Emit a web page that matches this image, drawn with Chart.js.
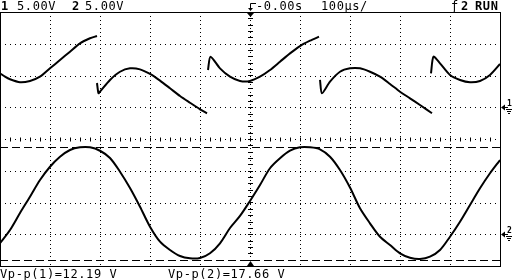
<!DOCTYPE html>
<html><head><meta charset="utf-8">
<script src="https://cdn.jsdelivr.net/npm/chart.js@4"></script>
<style>html,body{margin:0;padding:0;background:#fff;}canvas{display:block}</style>
</head><body>
<canvas id="c" width="512" height="280" style="width:512px;height:280px"></canvas>
<script>
// ---- data (time in µs, voltage in V) ----
const ch1Time  = [-500,-490,-480,-460,-440,-420,-400,-380,-360,-340,-320,-306, -305,
                  -306,-303,-300,-280,-260,-240,-220,-200,-180,-160,-140,-120,-100,-86, -85,
                  -84,-79,-60,-40,-20,0,20,40,60,80,100,120,138, 139,
                  140,144,160,180,200,220,240,260,280,300,320,340,364, 363,
                  362,367,380,400,420,440,460,480,500];
const ch1Volts = [5.35,4.81,4.40,3.93,4.14,4.81,6.13,7.44,8.75,10.07,10.86,11.22, null,
                  3.82,2.20,2.45,4.30,5.59,6.13,5.97,5.24,4.19,2.99,1.77,0.71,-0.32,-0.95, null,
                  5.86,7.96,6.13,4.81,4.14,4.14,4.81,5.86,7.17,8.49,9.64,10.48,11.11, null,
                  4.30,2.20,4.03,5.59,6.13,6.13,5.59,4.81,3.66,2.45,1.41,0.36,-0.95, null,
                  5.35,7.96,6.92,5.08,4.30,3.93,4.14,5.08,6.81];
const ch2Time  = [-500,-480,-460,-440,-420,-400,-380,-360,-340,-320,-300,-280,-260,-240,-220,-200,-180,-160,-140,-120,-100,
                  -80,-60,-40,-20,0,20,40,60,80,100,120,140,160,180,200,220,240,260,280,300,320,340,360,380,400,420,440,460,480,500];
const ch2Volts = [-1.42,0.67,3.35,5.91,8.54,10.63,12.21,13.27,13.69,13.69,13.15,12.01,9.85,7.28,4.34,1.19,-1.17,-2.48,-3.43,-3.79,-3.74,
                  -3.00,-1.42,0.98,2.88,5.24,7.76,10.39,11.96,13.15,13.69,13.69,13.38,12.21,10.12,7.36,4.09,1.72,-0.39,-1.69,-3.00,-3.69,-3.90,-3.53,-2.48,-0.39,1.97,4.61,7.24,9.60,11.69];
const voltsPerDiv = [5, 5];
const groundDiv   = [1, -3];          // ground marker positions (divisions from centre)
const cursorVolts = [13.74, -4.06];   // ch2 Vp-p cursors
const headerTexts = [["1",1,true],["5.00V",17,false],["2",72,true],["5.00V",85,false],["-0.00s",256,false],["100µs/",321,false],["ƒ",451,false],["2",461,true],["RUN",475,true]];
const footerTexts = [["Vp-p(1)=12.19 V",0],["Vp-p(2)=17.66 V",168]];

function toPts(ts, vs, ch){
  return ts.map((t,i)=>({x:t, y: vs[i]===null ? null : vs[i]/voltsPerDiv[ch] + groundDiv[ch]}));
}

const graticule = {
  id:'graticule',
  beforeDatasetsDraw(chart){
    const {ctx, chartArea:a, scales:{x:xs, y:ys}} = chart;
    ctx.save();
    ctx.strokeStyle='#000'; ctx.lineWidth=1;
    const L=a.left, R=a.right, T=a.top, B=a.bottom;
    const line=(x1,y1,x2,y2)=>{ctx.beginPath();ctx.moveTo(x1,y1);ctx.lineTo(x2,y2);ctx.stroke();};
    // vertical dotted
    ctx.setLineDash([1,3]);
    for(let t=-400;t<=400;t+=100){
      const px=Math.round(xs.getPixelForValue(t))+0.5;
      line(px,T,px,B);
    }
    // horizontal dotted
    ctx.setLineDash([1,4]);
    for(let d=-3;d<=3;d++){
      const py=Math.round(ys.getPixelForValue(d))+0.5;
      line(L,py,R,py);
    }
    ctx.setLineDash([]);
    // centre ticks
    const cx=Math.round(xs.getPixelForValue(0))+0.5, cy=Math.round(ys.getPixelForValue(0))+0.5;
    for(let d=-4;d<=4.01;d+=0.2){
      const py=Math.round(ys.getPixelForValue(d))+0.5;
      line(cx-2.5,py,cx+2.5,py);
    }
    for(let t=-500;t<=500;t+=20){
      const px=Math.round(xs.getPixelForValue(t))+0.5;
      line(px,cy-2,px,cy+2);
    }
    // cursors
    ctx.setLineDash([8,4]);
    cursorVolts.forEach(v=>{
      const py=Math.round(ys.getPixelForValue(v/voltsPerDiv[1]+groundDiv[1]))+0.5;
      line(L,py,R,py);
    });
    ctx.setLineDash([]);
    // border
    ctx.strokeRect(L+0.5,T+0.5,R-L,B-T);
    ctx.restore();
  },
  afterDraw(chart){
    const {ctx, chartArea:a, scales:{x:xs, y:ys}} = chart;
    ctx.save();
    ctx.fillStyle='#000'; ctx.strokeStyle='#000'; ctx.lineWidth=1;
    ctx.textBaseline='alphabetic';
    try{ctx.letterSpacing='0.6px';}catch(e){}
    headerTexts.forEach(([s,x,b])=>{
      ctx.font=(b?'bold ':'')+'12px "DejaVu Sans Mono"';
      ctx.fillText(s,x,10);
    });
    footerTexts.forEach(([s,x])=>{
      ctx.font='12px "DejaVu Sans Mono"';
      ctx.fillText(s,x,278);
    });
    const cx=Math.round(xs.getPixelForValue(0));
    // trigger glyph at top
    ctx.beginPath();ctx.moveTo(cx+0.5,10);ctx.lineTo(cx+0.5,3.5);ctx.lineTo(cx+6,3.5);ctx.stroke();
    ctx.beginPath();ctx.moveTo(cx-2,8);ctx.lineTo(cx+3,8);ctx.lineTo(cx+0.5,11);ctx.closePath();ctx.fill();
    // trigger position triangles
    ctx.beginPath();ctx.moveTo(cx-3,a.top+1);ctx.lineTo(cx+4,a.top+1);ctx.lineTo(cx+0.5,a.top+5);ctx.closePath();ctx.fill();
    ctx.beginPath();ctx.moveTo(cx-3,a.bottom);ctx.lineTo(cx+4,a.bottom);ctx.lineTo(cx+0.5,a.bottom-5);ctx.closePath();ctx.fill();
    // ground markers
    groundDiv.forEach((d,i)=>{
      const py=Math.round(ys.getPixelForValue(d))+0.5;
      const x0=a.right+1;
      ctx.beginPath();ctx.moveTo(x0,py);ctx.lineTo(x0+4,py-3);ctx.lineTo(x0+4,py+3);ctx.closePath();ctx.fill();
      ctx.beginPath();ctx.moveTo(x0+4,py);ctx.lineTo(x0+7,py);ctx.stroke();
      ctx.font='bold 8px "DejaVu Sans Mono"';
      try{ctx.letterSpacing='0px';}catch(e){}
      ctx.fillText(String(i+1),x0+6,py-2);
      ctx.beginPath();
      ctx.moveTo(x0+5,py+2);ctx.lineTo(x0+11,py+2);
      ctx.moveTo(x0+6,py+4);ctx.lineTo(x0+10,py+4);
      ctx.moveTo(x0+7,py+6);ctx.lineTo(x0+9,py+6);
      ctx.stroke();
    });
    ctx.restore();
  }
};

new Chart(document.getElementById('c').getContext('2d'), {
  type:'line',
  data:{datasets:[
    {data:toPts(ch1Time,ch1Volts,0), borderColor:'#000', borderWidth:2, pointRadius:0, tension:0.25, spanGaps:false, fill:false},
    {data:toPts(ch2Time,ch2Volts,1), borderColor:'#000', borderWidth:2, pointRadius:0, tension:0.3, spanGaps:false, fill:false}
  ]},
  options:{
    responsive:false, animation:false, events:[],
    layout:{padding:{left:0,right:12,top:12,bottom:14}},
    plugins:{legend:{display:false}, tooltip:{enabled:false}, title:{display:false}},
    scales:{
      x:{type:'linear', min:-500, max:500, display:false},
      y:{type:'linear', min:-4, max:4, display:false}
    }
  },
  plugins:[graticule]
});
</script>
</body></html>
